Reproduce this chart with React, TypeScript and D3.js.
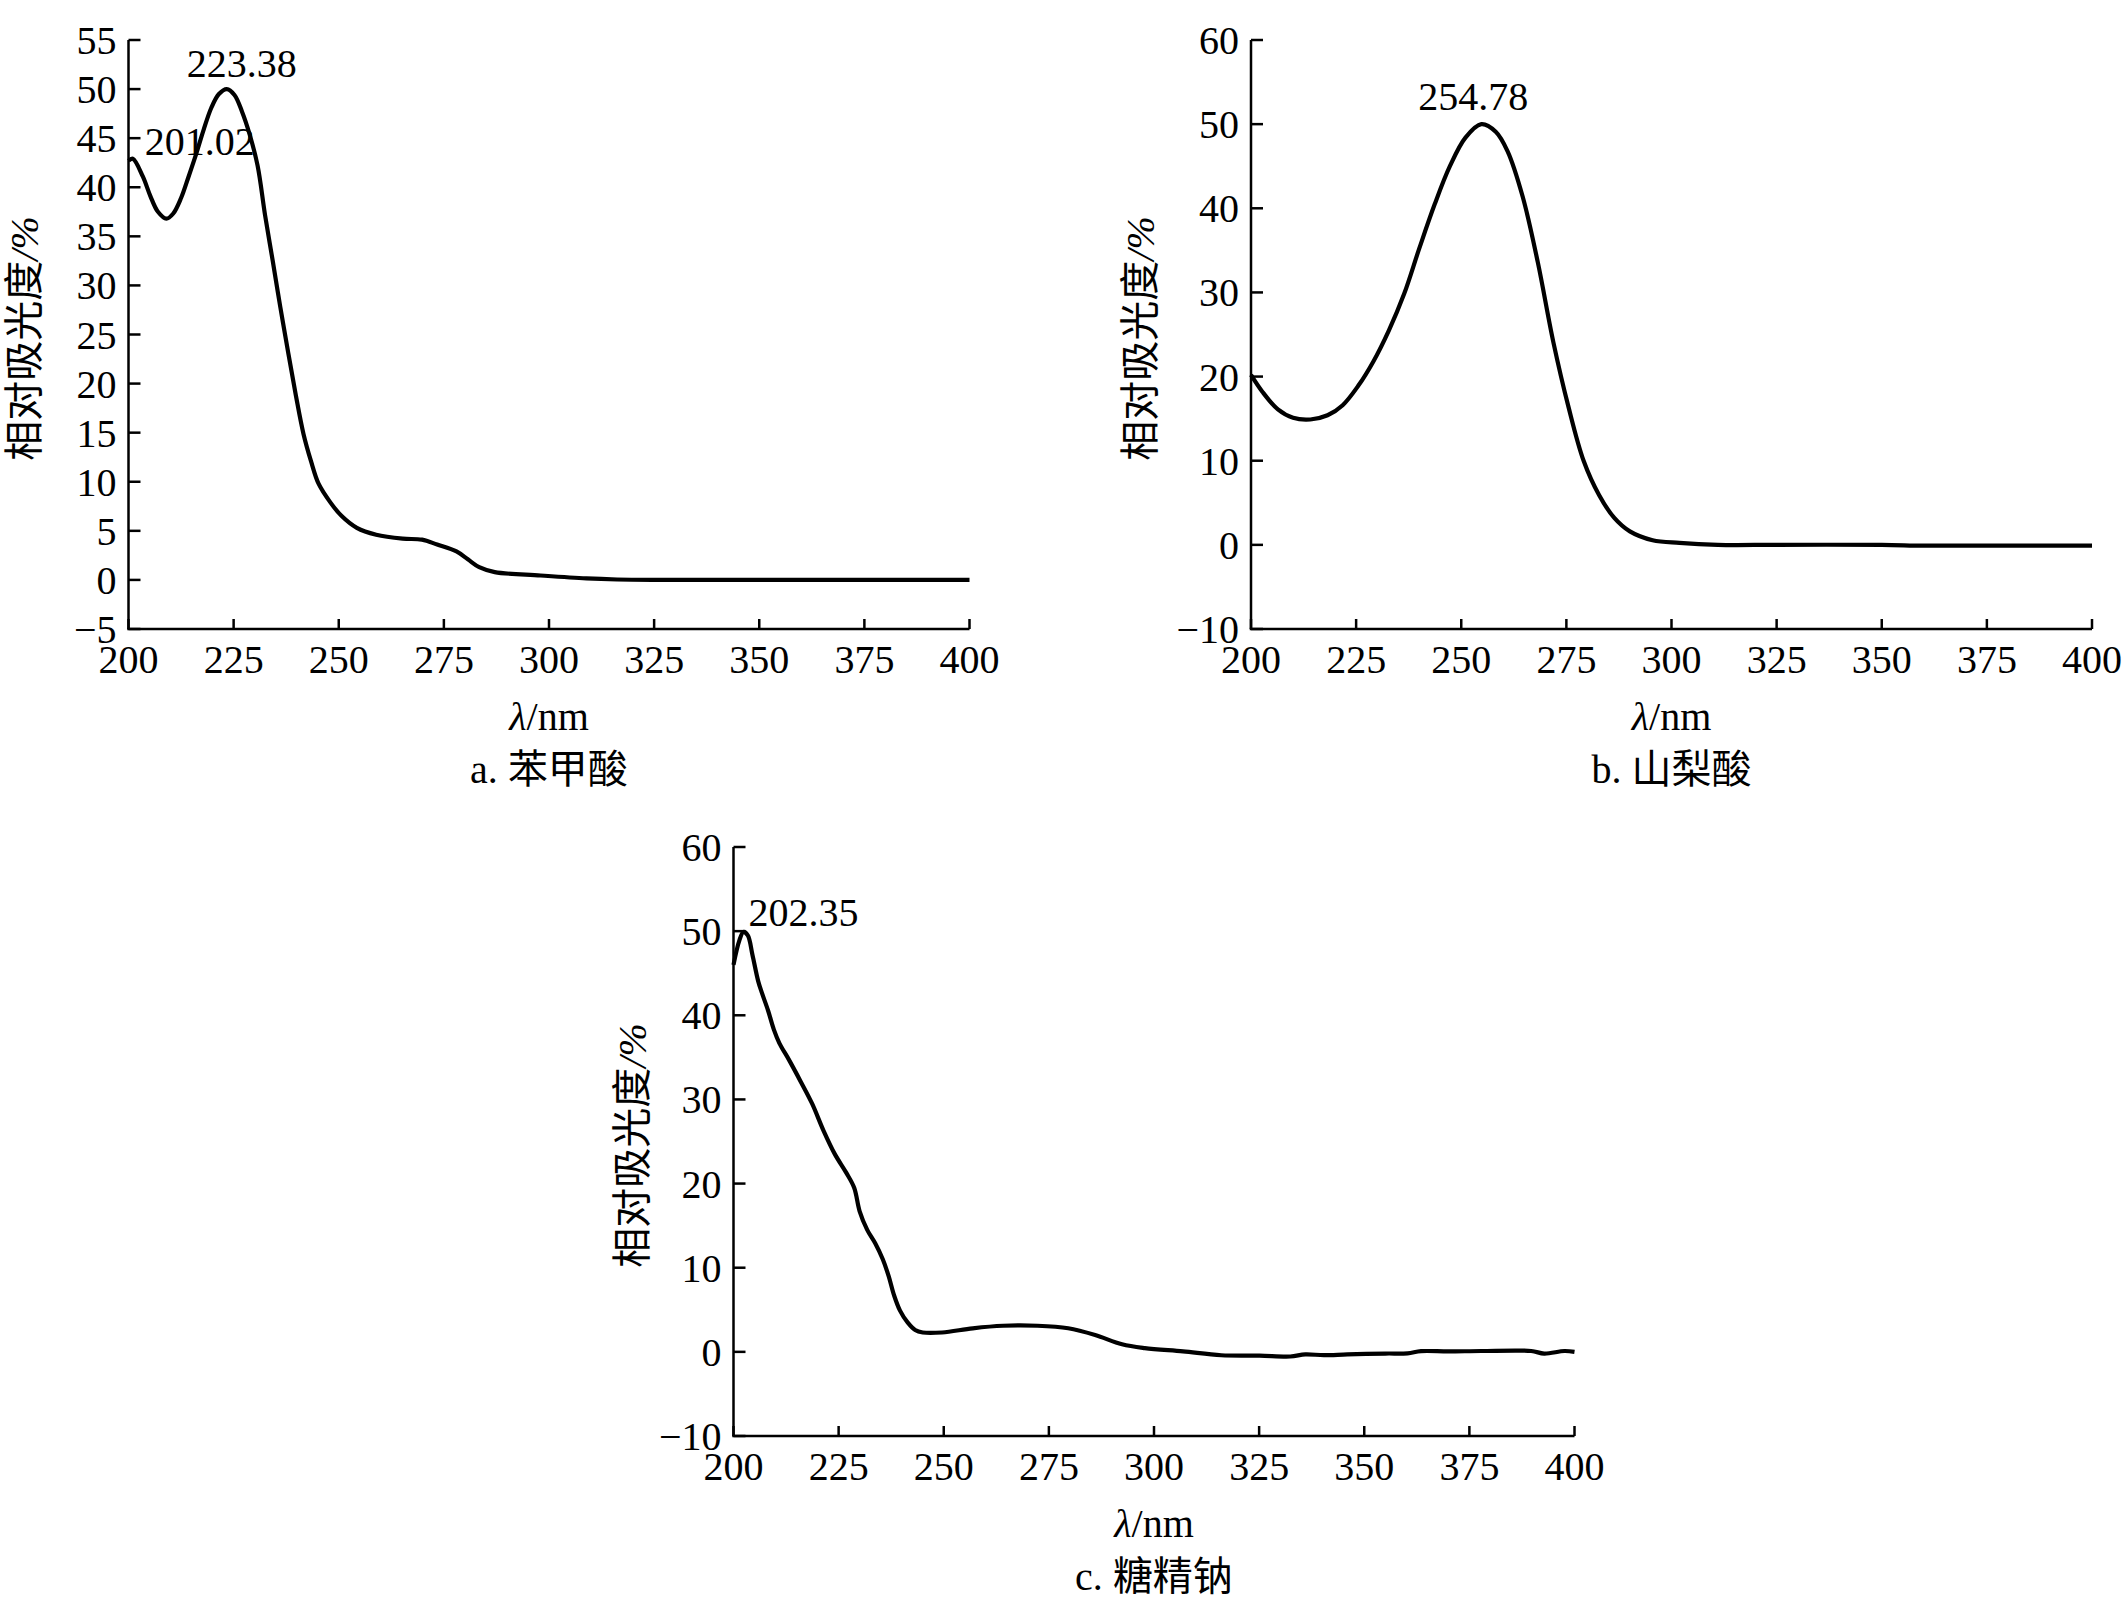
import React from 'react';
import * as d3 from 'd3';

// wavelength (nm) / relative absorbance (%)
const aWavelength = [200, 201.02, 203.4, 205.2, 207, 209, 210.6, 212.5, 214.3, 216.1, 217.9, 219.7, 221.5, 223.38, 225.2, 227, 228.8, 230.7, 232.5, 234.3, 236.1, 238, 239.8, 241.6, 243.4, 245.2, 248, 250.7, 254.3, 258.9, 265.2, 269.8, 273.4, 278, 280.7, 283.4, 287.1, 298, 308.9, 316.2, 325, 350, 375, 400];
const aAbsorbance = [42.7, 42.9, 41.1, 39.1, 37.5, 36.8, 37.3, 38.9, 41.1, 43.4, 45.9, 48.1, 49.5, 50, 49.4, 47.7, 45.4, 42.2, 37.1, 32.5, 27.8, 23.1, 18.8, 14.9, 12.1, 9.8, 7.9, 6.5, 5.3, 4.6, 4.2, 4.1, 3.6, 2.9, 2.1, 1.3, 0.8, 0.45, 0.15, 0.04, 0, 0, 0, 0];

const bWavelength = [200, 202.7, 206.4, 210, 214.1, 218.2, 221.8, 225.5, 229.1, 232.8, 236.4, 240, 243.7, 247.3, 251, 254.78, 258.2, 261, 264.6, 268.2, 271.9, 275.5, 279.1, 282.8, 286.4, 290.1, 295.5, 301.9, 311, 325, 350, 360, 375, 400];
const bAbsorbance = [20.2, 18.2, 16.1, 15.1, 14.9, 15.4, 16.6, 18.9, 21.8, 25.5, 29.8, 35.2, 40.5, 45, 48.4, 50, 49.1, 46.8, 41.4, 33.6, 24.1, 16.4, 10, 5.9, 3.2, 1.6, 0.55, 0.23, 0, 0, 0, -0.1, -0.1, -0.1];

const cWavelength = [200, 201.4, 202.35, 203.4, 204.5, 205.9, 206.8, 208.2, 209.6, 210.9, 213.2, 215.9, 218.7, 221.4, 224.1, 226.8, 228.7, 230, 231.8, 233.7, 235.5, 236.9, 238.2, 239.6, 241.4, 243.2, 245, 249.6, 256.9, 264.1, 272.3, 279.6, 286, 292.4, 297.8, 306.9, 316, 325.1, 332.4, 336, 340.4, 346, 355, 360.3, 363.5, 370, 377.8, 389.7, 392.8, 397.6, 400];
const cAbsorbance = [46, 48.9, 49.9, 49.5, 47.2, 44, 42.6, 40.6, 38.3, 36.7, 34.7, 32.2, 29.5, 26.3, 23.5, 21.3, 19.5, 16.7, 14.5, 12.9, 11, 9, 6.7, 4.9, 3.5, 2.6, 2.3, 2.3, 2.8, 3.1, 3.1, 2.8, 2.0, 0.9, 0.45, 0.05, -0.4, -0.45, -0.55, -0.3, -0.4, -0.3, -0.2, -0.17, 0.08, 0.05, 0.1, 0.1, -0.2, 0.1, 0];

const xTicks = [200, 225, 250, 275, 300, 325, 350, 375, 400];
const aYTicks = [-5, 0, 5, 10, 15, 20, 25, 30, 35, 40, 45, 50, 55];
const bcYTicks = [-10, 0, 10, 20, 30, 40, 50, 60];

const aPeaks = [201.02, 223.38];
const aPeakValues = [42.9, 50];
const bPeaks = [254.78];
const bPeakValues = [50];
const cPeaks = [202.35];
const cPeakValues = [50];

const captionLetters = ['a.', 'b.', 'c.'];
const captionNames = ['苯甲酸', '山梨酸', '糖精钠'];

const SERIF = '"Liberation Serif", "Times New Roman", serif';
const CJK = '"Noto Sans CJK SC", sans-serif';
const W = 841;
const H = 589;

interface PeakLabel { x: number; v: number; dx: number; dy: number; anchor: string }

interface PanelProps {
  left: number;
  top: number;
  yDomain: [number, number];
  yTicks: number[];
  xs: number[];
  ys: number[];
  peaks: PeakLabel[];
  letter: string;
  name: string;
  ylabelOffset: number;
}

const Panel: React.FC<PanelProps> = ({ left, top, yDomain, yTicks, xs, ys, peaks, letter, name, ylabelOffset }) => {
  const x = d3.scaleLinear().domain([200, 400]).range([0, W]);
  const y = d3.scaleLinear().domain(yDomain).range([H, 0]);
  const fmt = d3.format('');
  const line = d3.line<number>()
    .x((_, i) => x(xs[i]))
    .y((d) => y(d))
    .curve(d3.curveCatmullRom.alpha(0.5));

  return (
    <g transform={`translate(${left},${top})`}>
      <path d={line(ys) || ''} fill="none" stroke="#000" strokeWidth={4.2} strokeLinejoin="round" />
      {/* axes */}
      <line x1={0} x2={0} y1={0} y2={H} stroke="#000" strokeWidth={2.5} />
      <line x1={-1.25} x2={W} y1={H} y2={H} stroke="#000" strokeWidth={2.5} />
      {yTicks.map((t) => (
        <g key={'y' + t}>
          <line x1={0} x2={12} y1={y(t)} y2={y(t)} stroke="#000" strokeWidth={2.5} />
          <text x={-12} y={y(t)} dy="0.35em" textAnchor="end" fontFamily={SERIF} fontSize={40}>
            {fmt(t)}
          </text>
        </g>
      ))}
      {xTicks.map((t) => (
        <g key={'x' + t}>
          <line x1={x(t)} x2={x(t)} y1={H} y2={H - 10} stroke="#000" strokeWidth={2.5} />
          <text x={x(t)} y={H + 44} textAnchor="middle" fontFamily={SERIF} fontSize={40}>
            {t}
          </text>
        </g>
      ))}
      {peaks.map((p) => (
        <text key={'p' + p.x} x={x(p.x) + p.dx} y={y(p.v) + p.dy} textAnchor={p.anchor as any}
          fontFamily={SERIF} fontSize={40}>
          {p.x.toFixed(2)}
        </text>
      ))}
      <text transform={`translate(${-ylabelOffset},${H / 2 + 4}) rotate(-90)`} textAnchor="middle"
        dy="0.35em" fontSize={40}>
        <tspan fontFamily={CJK}>相对吸光度</tspan>
        <tspan fontFamily={SERIF} fontStyle="italic">/%</tspan>
      </text>
      <text x={W / 2} y={H + 101} textAnchor="middle" fontSize={40} fontFamily={SERIF}>
        <tspan fontStyle="italic">λ</tspan>
        <tspan>/nm</tspan>
      </text>
      <text x={W / 2} y={H + 154} textAnchor="middle" fontSize={40}>
        <tspan fontFamily={SERIF}>{letter} </tspan>
        <tspan fontFamily={CJK}>{name}</tspan>
      </text>
    </g>
  );
};

const mkPeaks = (pk: number[], pv: number[], dx: number[], dy: number[], anchor: string[]): PeakLabel[] =>
  pk.map((p, i) => ({ x: p, v: pv[i], dx: dx[i], dy: dy[i], anchor: anchor[i] }));

export default function App() {
  return (
    <svg width={2124} height={1604} style={{ position: 'absolute', left: 0, top: 0, background: '#fff' }}>
      <rect width={2124} height={1604} fill="#fff" />
      <Panel left={128.5} top={40} yDomain={[-5, 55]} yTicks={aYTicks} xs={aWavelength} ys={aAbsorbance}
        peaks={mkPeaks(aPeaks, aPeakValues, [12, -40], [-4, -12], ['start', 'start'])}
        letter={captionLetters[0]} name={captionNames[0]} ylabelOffset={105} />
      <Panel left={1251} top={40} yDomain={[-10, 60]} yTicks={bcYTicks} xs={bWavelength} ys={bAbsorbance}
        peaks={mkPeaks(bPeaks, bPeakValues, [-8], [-14], ['middle'])}
        letter={captionLetters[1]} name={captionNames[1]} ylabelOffset={111} />
      <Panel left={733.5} top={847} yDomain={[-10, 60]} yTicks={bcYTicks} xs={cWavelength} ys={cAbsorbance}
        peaks={mkPeaks(cPeaks, cPeakValues, [5], [-5], ['start'])}
        letter={captionLetters[2]} name={captionNames[2]} ylabelOffset={102} />
    </svg>
  );
}
